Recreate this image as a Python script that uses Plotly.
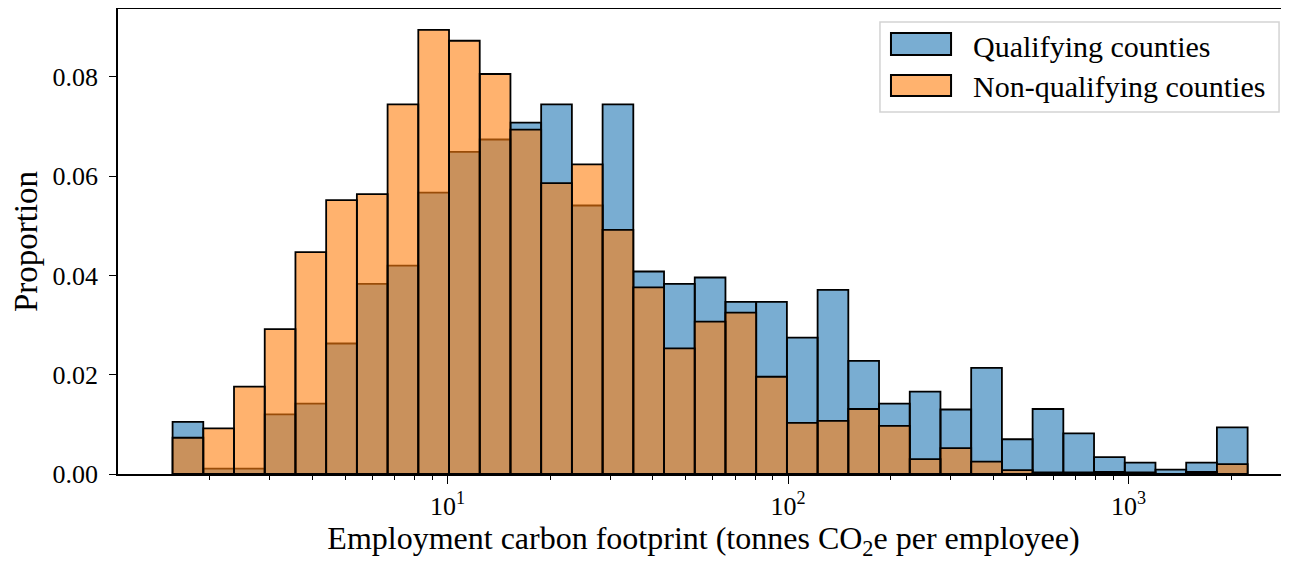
import numpy as np
import plotly.graph_objects as go

# Histogram bins: 35 log-spaced bins (tonnes CO2e per employee)
bin_lo = 1.557
bin_hi = 2236.0
n_bins = 35

qualifying = [0.0105, 0.0011, 0.0011, 0.0120, 0.0142, 0.0263, 0.0383, 0.0420, 0.0567, 0.0649,
              0.0674, 0.0708, 0.0745, 0.0541, 0.0745, 0.0408, 0.0383, 0.0396, 0.0347, 0.0347,
              0.0275, 0.0371, 0.0228, 0.0142, 0.0166, 0.0130, 0.0214, 0.0070, 0.0131, 0.0082,
              0.0034, 0.0023, 0.0009, 0.0023, 0.0094]
non_qualifying = [0.0073, 0.0092, 0.0176, 0.0292, 0.0447, 0.0552, 0.0564, 0.0745, 0.0895, 0.0873,
                  0.0806, 0.0694, 0.0586, 0.0624, 0.0492, 0.0376, 0.0253, 0.0307, 0.0325, 0.0196,
                  0.0103, 0.0107, 0.0131, 0.0097, 0.0030, 0.0052, 0.0025, 0.0008, 0.0003, 0.0003,
                  0.0004, 0.0003, 0.0000, 0.0004, 0.0020]
series_names = ["Qualifying counties", "Non-qualifying counties"]
x_tick_vals = [10, 100, 1000]
x_tick_text = ["10<sup>1</sup>", "10<sup>2</sup>", "10<sup>3</sup>"]
y_tick_vals = [0.0, 0.02, 0.04, 0.06, 0.08]

edges = np.logspace(np.log10(bin_lo), np.log10(bin_hi), n_bins + 1)

FONT = "Liberation Serif"
fills = ["rgba(31,119,180,0.6)", "rgba(255,127,14,0.6)"]


def bar_outline(values):
    xs, ys = [], []
    for i, h in enumerate(values):
        a, b = edges[i], edges[i + 1]
        xs += [a, a, b, b, a, None]
        ys += [0, h, h, 0, 0, None]
    return xs, ys


fig = go.Figure()
for name, vals, fc in zip(series_names, [qualifying, non_qualifying], fills):
    xs, ys = bar_outline(vals)
    fig.add_trace(go.Scatter(x=xs, y=ys, mode="lines", fill="toself", fillcolor=fc,
                             line=dict(color="black", width=1.8), showlegend=False,
                             name=name, hoverinfo="skip"))

# Legend drawn as a box with swatches (paper coordinates)
shapes = [dict(type="rect", xref="paper", yref="paper", x0=0.6507, x1=0.9915, y0=0.7785, y1=0.9720,
               fillcolor="rgba(255,255,255,0.8)", line=dict(color="#d3d3d3", width=1.5), layer="above")]
annotations = []
sw_y = [(0.9011, 0.9484), (0.8129, 0.8581)]
txt_y = [0.9204, 0.8323]
for name, fc, (y0, y1), ty in zip(series_names, fills, sw_y, txt_y):
    shapes.append(dict(type="rect", xref="paper", yref="paper", x0=0.6601, x1=0.7114, y0=y0, y1=y1,
                       fillcolor=fc, line=dict(color="black", width=2), layer="above"))
    annotations.append(dict(xref="paper", yref="paper", x=0.7285, y=ty, xanchor="left",
                            yanchor="middle", text=name, showarrow=False,
                            font=dict(family=FONT, size=30, color="black")))

fig.update_layout(
    width=1281, height=553,
    margin=dict(l=110, r=0, t=1, b=87, autoexpand=False),
    paper_bgcolor="white", plot_bgcolor="white",
    font=dict(family=FONT, size=26, color="black"),
    showlegend=False,
    shapes=shapes, annotations=annotations,
    xaxis=dict(type="log", range=[0.032, 3.471], showgrid=False, zeroline=False,
               showline=True, linecolor="black", linewidth=1.5, mirror=True,
               ticks="outside", ticklen=8, tickwidth=1.3, tickcolor="black",
               tickvals=x_tick_vals, ticktext=x_tick_text,
               tickfont=dict(family=FONT, size=26),
               minor=dict(ticks="outside", ticklen=4, tickwidth=1, tickcolor="black",
                          tickvals=[k * 10 ** p for p in range(0, 4) for k in range(2, 10)],
                          showgrid=False),
               title=dict(text="Employment carbon footprint (tonnes CO<sub>2</sub>e per employee)",
                          font=dict(family=FONT, size=32), standoff=8)),
    yaxis=dict(range=[0, 0.0937], showgrid=False, zeroline=False,
               showline=True, linecolor="black", linewidth=1.5,
               ticks="outside", ticklen=7, tickwidth=1.3, tickcolor="black",
               tickvals=y_tick_vals, tickformat=".2f", ticklabelstandoff=6,
               tickfont=dict(family=FONT, size=26),
               title=dict(text="Proportion", font=dict(family=FONT, size=33), standoff=10)),
)

fig.write_html("out.html")
